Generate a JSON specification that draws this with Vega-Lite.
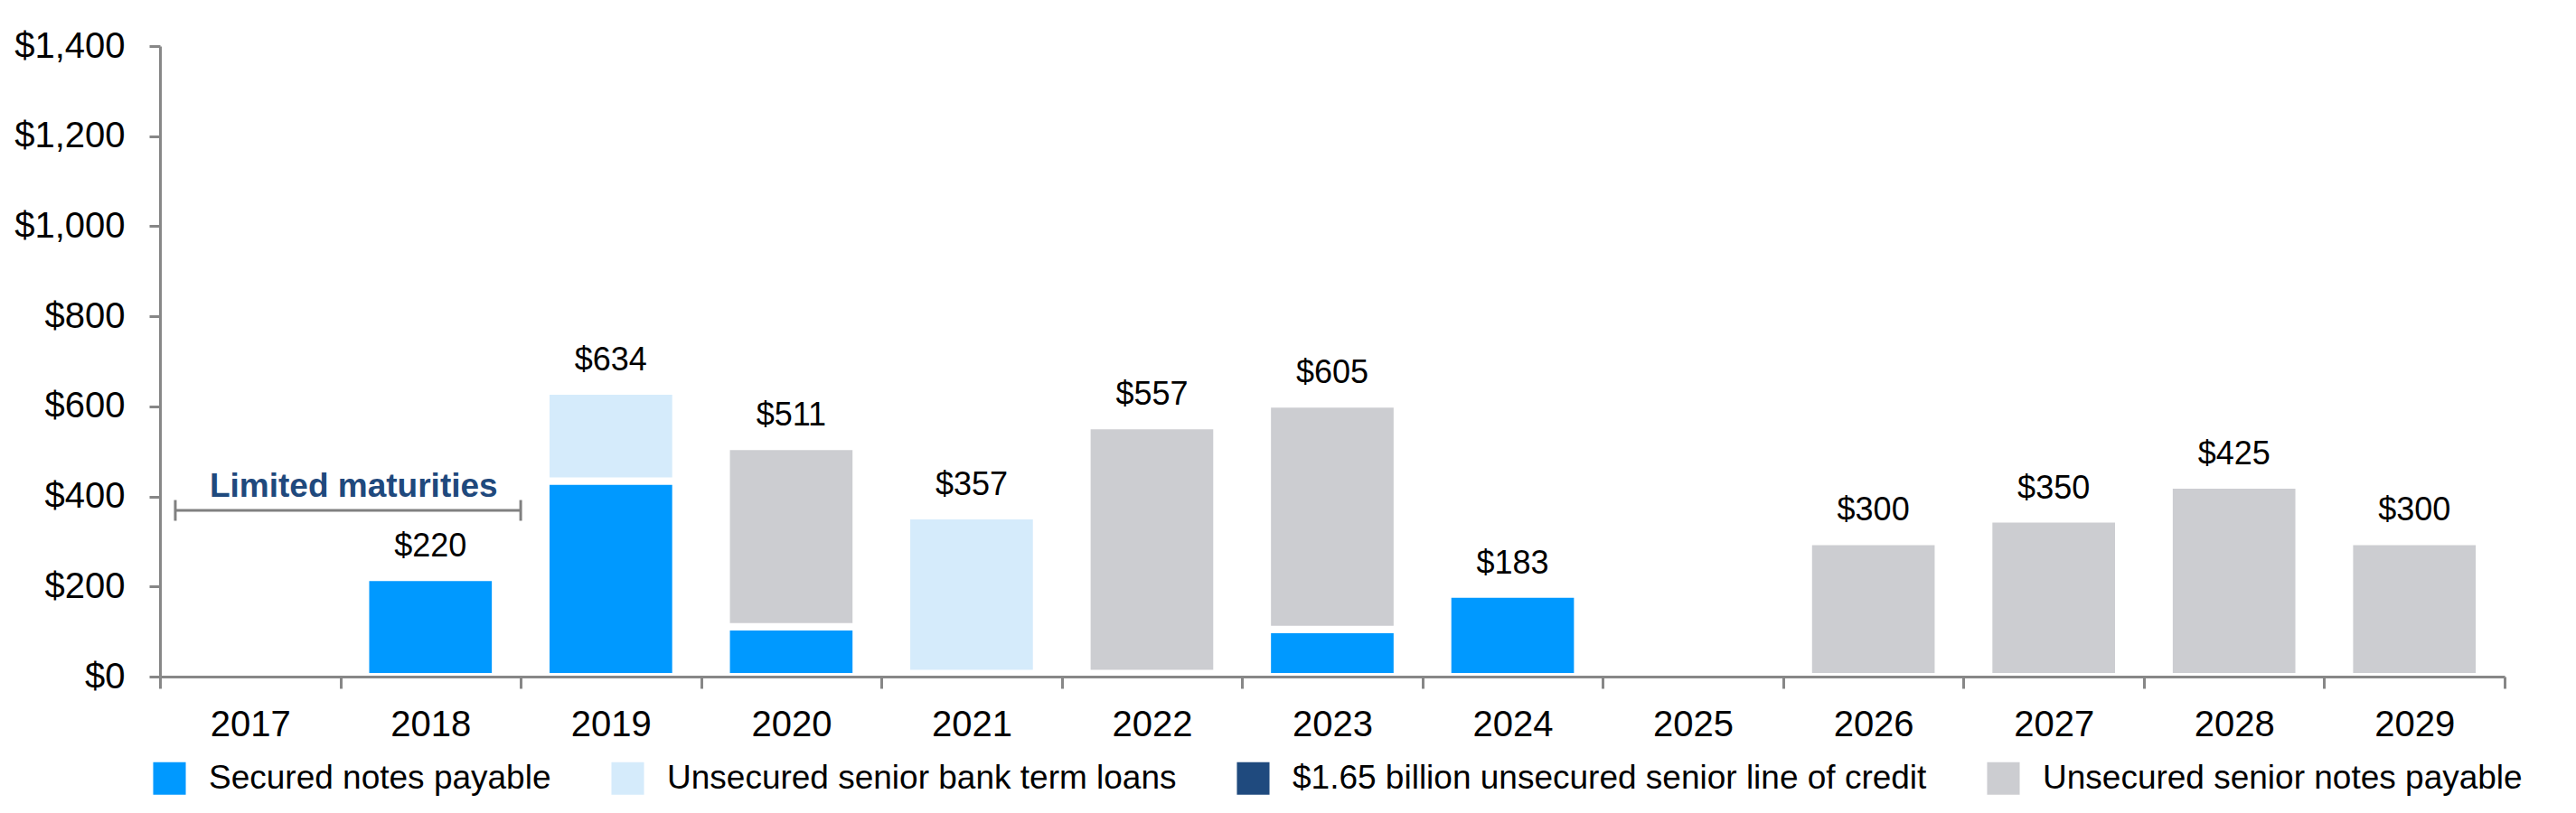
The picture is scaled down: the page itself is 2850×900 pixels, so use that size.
{
  "$schema": "https://vega.github.io/schema/vega-lite/v6.json",
  "width": 2594,
  "height": 698,
  "autosize": {"type": "none"},
  "padding": {"left": 177, "top": 51, "right": 79, "bottom": 151},
  "background": "white",
  "config": {
    "font": "Liberation Sans",
    "view": {"stroke": null},
    "axis": {"grid": false}
  },
  "datasets": {
    "debt": [
      {"year": "2018", "type": "Secured notes payable", "rank": 1, "amount": 220},
      {"year": "2019", "type": "Secured notes payable", "rank": 1, "amount": 434},
      {"year": "2019", "type": "Unsecured senior bank term loans", "rank": 2, "amount": 200},
      {"year": "2020", "type": "Secured notes payable", "rank": 1, "amount": 111},
      {"year": "2020", "type": "Unsecured senior notes payable", "rank": 4, "amount": 400},
      {"year": "2021", "type": "Secured notes payable", "rank": 1, "amount": 7},
      {"year": "2021", "type": "Unsecured senior bank term loans", "rank": 2, "amount": 350},
      {"year": "2022", "type": "Secured notes payable", "rank": 1, "amount": 7},
      {"year": "2022", "type": "Unsecured senior notes payable", "rank": 4, "amount": 550},
      {"year": "2023", "type": "Secured notes payable", "rank": 1, "amount": 105},
      {"year": "2023", "type": "Unsecured senior notes payable", "rank": 4, "amount": 500},
      {"year": "2024", "type": "Secured notes payable", "rank": 1, "amount": 183},
      {"year": "2026", "type": "Unsecured senior notes payable", "rank": 4, "amount": 300},
      {"year": "2027", "type": "Unsecured senior notes payable", "rank": 4, "amount": 350},
      {"year": "2028", "type": "Unsecured senior notes payable", "rank": 4, "amount": 425},
      {"year": "2029", "type": "Unsecured senior notes payable", "rank": 4, "amount": 300}
    ],
    "bracketLine": [{"x1": 0.085, "x2": 2.0, "y": 369}],
    "bracketEnds": [
      {"x": 0.085, "y1": 346, "y2": 392},
      {"x": 2.0, "y1": 346, "y2": 392}
    ],
    "bracketLabel": [{"x": 1.074, "y": 399, "label": "Limited maturities"}]
  },
  "layer": [
    {
      "layer": [
        {
          "data": {"name": "debt"},
          "mark": {"type": "bar", "stroke": "white", "strokeWidth": 8, "width": {"band": 0.72}},
          "encoding": {
            "x": {
              "field": "year",
              "type": "nominal",
              "scale": {
                "domain": ["2017", "2018", "2019", "2020", "2021", "2022", "2023", "2024", "2025", "2026", "2027", "2028", "2029"],
                "paddingInner": 0,
                "paddingOuter": 0
              },
              "axis": {
                "title": null,
                "zindex": 2,
                "labelAngle": 0,
                "tickBand": "extent",
                "domainColor": "#878787",
                "domainWidth": 3,
                "tickColor": "#878787",
                "tickWidth": 3,
                "tickSize": 13,
                "labelFontSize": 40,
                "labelColor": "black",
                "labelPadding": 20
              }
            },
            "y": {
              "field": "amount",
              "type": "quantitative",
              "stack": "zero",
              "scale": {"domain": [0, 1400], "nice": false},
              "axis": {
                "title": null,
                "zindex": 2,
                "values": [0, 200, 400, 600, 800, 1000, 1200, 1400],
                "format": "$,.0f",
                "domainColor": "#878787",
                "domainWidth": 3,
                "tickColor": "#878787",
                "tickWidth": 3,
                "tickSize": 12,
                "labelFontSize": 40,
                "labelColor": "black",
                "labelPadding": 27
              }
            },
            "color": {
              "field": "type",
              "type": "nominal",
              "scale": {
                "domain": ["Secured notes payable", "Unsecured senior bank term loans", "$1.65 billion unsecured senior line of credit", "Unsecured senior notes payable"],
                "range": ["#0099FF", "#D5EBFB", "#1F4A7E", "#CCCDD1"]
              },
              "legend": {
                "orient": "none",
                "legendX": -8,
                "legendY": 792,
                "direction": "horizontal",
                "columns": 4,
                "title": null,
                "symbolType": "square",
                "symbolSize": 1300,
                "symbolStrokeWidth": 0,
                "symbolOpacity": 1,
                "labelFontSize": 37,
                "labelColor": "black",
                "labelOffset": 25,
                "labelLimit": 1000,
                "columnPadding": 66,
                "padding": 0
              }
            },
            "order": {"field": "rank", "type": "quantitative"}
          }
        },
        {
          "data": {"name": "debt"},
          "transform": [
            {"aggregate": [{"op": "sum", "field": "amount", "as": "total"}], "groupby": ["year"]}
          ],
          "mark": {"type": "text", "fontSize": 36, "dy": -23, "baseline": "alphabetic", "color": "black"},
          "encoding": {
            "x": {"field": "year", "type": "nominal"},
            "y": {"field": "total", "type": "quantitative"},
            "text": {"field": "total", "type": "quantitative", "format": "$,.0f"}
          }
        }
      ]
    },
    {
      "layer": [
        {
          "data": {"name": "bracketLine"},
          "mark": {"type": "rule", "color": "#808080", "strokeWidth": 3},
          "encoding": {
            "x": {"field": "x1", "type": "quantitative", "scale": {"domain": [0, 13], "nice": false, "zero": false}, "axis": null},
            "x2": {"field": "x2"},
            "y": {"field": "y", "type": "quantitative"}
          }
        },
        {
          "data": {"name": "bracketEnds"},
          "mark": {"type": "rule", "color": "#808080", "strokeWidth": 3},
          "encoding": {
            "x": {"field": "x", "type": "quantitative", "axis": null},
            "y": {"field": "y1", "type": "quantitative"},
            "y2": {"field": "y2"}
          }
        },
        {
          "data": {"name": "bracketLabel"},
          "mark": {"type": "text", "fontSize": 37, "fontWeight": "bold", "color": "#1F497D", "baseline": "alphabetic", "align": "center"},
          "encoding": {
            "x": {"field": "x", "type": "quantitative", "axis": null},
            "y": {"field": "y", "type": "quantitative"},
            "text": {"field": "label", "type": "nominal"}
          }
        }
      ]
    }
  ],
  "resolve": {"scale": {"x": "independent"}, "axis": {"x": "independent"}}
}
